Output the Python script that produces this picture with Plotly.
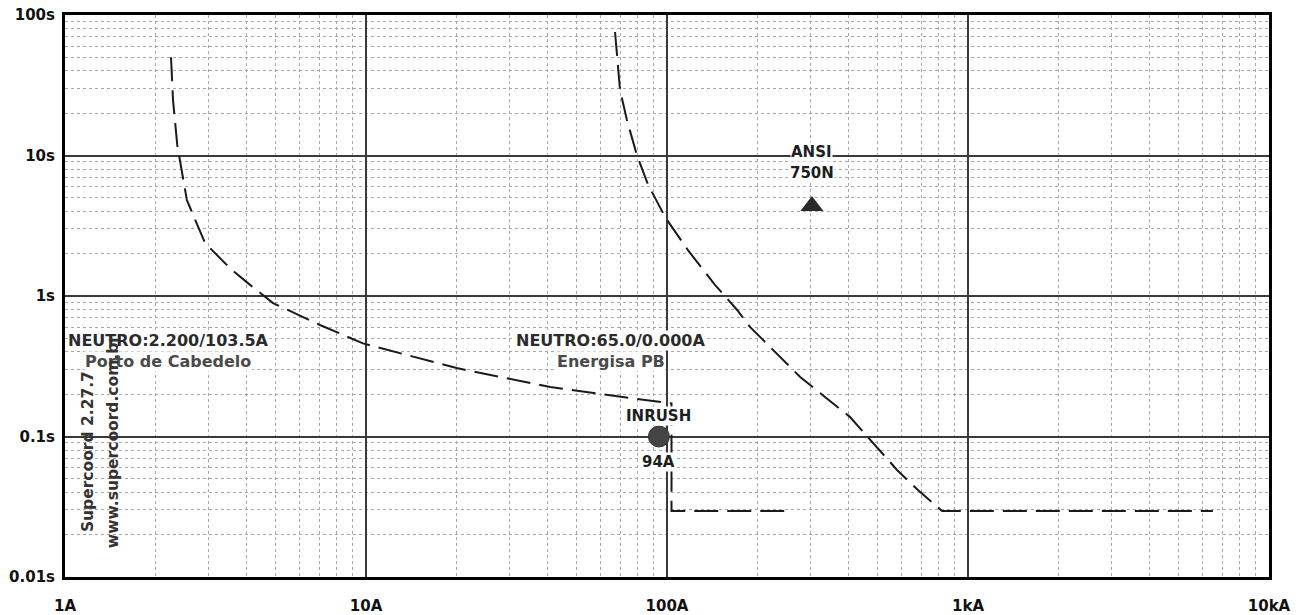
import math
import plotly.graph_objects as go

# ---- data (current in A, time in s) ----
cabedelo_current = [2.25, 2.285, 2.36, 2.47, 2.54, 2.92, 3.53, 4.12, 4.91, 7.03, 9.77, 20.0, 40.9, 79.5, 103.5, 103.5, 252.0]
cabedelo_time = [50.0, 24.8, 11.9, 6.9, 4.82, 2.38, 1.58, 1.2, 0.89, 0.622, 0.46, 0.307, 0.225, 0.185, 0.172, 0.0295, 0.0295]

energisa_current = [67.2, 69.8, 73.6, 79.5, 86.5, 99.0, 117.4, 144.3, 171.0, 189.0, 277.0, 405.0, 581.0, 682.0, 820.0, 6510.0]
energisa_time = [75.7, 29.3, 17.9, 10.0, 6.2, 3.59, 2.12, 1.2, 0.795, 0.60, 0.265, 0.138, 0.0578, 0.0416, 0.0295, 0.0295]

inrush_current = [94.0]
inrush_time = [0.1]

ansi_current = [303.0]
ansi_time = [4.37]

pickup_cabedelo = 2.2
pickup_energisa = 65.0
label_time = 0.486

x_tickvals = [1, 10, 100, 1000, 10000]
x_ticktext = ["1A", "10A", "100A", "1kA", "10kA"]
y_tickvals = [0.01, 0.1, 1, 10, 100]
y_ticktext = ["0.01s", "0.1s", "1s", "10s", "100s"]
minor_mult = [2, 3, 4, 5, 6, 7, 8, 9]

x_minor = [m * v for v in x_tickvals[:-1] for m in minor_mult]
y_minor = [m * v for v in y_tickvals[:-1] for m in minor_mult]

FONT = "DejaVu Sans"
DASH = "24px,9px"

fig = go.Figure()
fig.add_trace(go.Scatter(x=cabedelo_current, y=cabedelo_time, mode="lines",
                         line=dict(color="#1a1a1a", width=2, dash=DASH),
                         hoverinfo="skip", showlegend=False))
fig.add_trace(go.Scatter(x=energisa_current, y=energisa_time, mode="lines",
                         line=dict(color="#1a1a1a", width=2, dash=DASH),
                         hoverinfo="skip", showlegend=False))
fig.add_trace(go.Scatter(x=inrush_current, y=inrush_time, mode="markers",
                         marker=dict(symbol="circle", size=21, color="#454545",
                                     line=dict(color="#333", width=1)),
                         hoverinfo="skip", showlegend=False))
fig.add_trace(go.Scatter(x=ansi_current, y=ansi_time, mode="markers",
                         marker=dict(symbol="triangle-up", size=20, color="#2a2a2a"),
                         hoverinfo="skip", showlegend=False))

ann = []
def label(x, y, text, yshift, size=15, color="#222"):
    ann.append(dict(x=math.log10(x), y=math.log10(y), xref="x", yref="y",
                    text="<b>%s</b>" % text, xanchor="center", yanchor="middle",
                    showarrow=False, yshift=yshift, bgcolor="white", borderpad=0,
                    font=dict(family=FONT, size=size, color=color)))

label(pickup_cabedelo, label_time, "NEUTRO:2.200/103.5A", 0, size=16, color="#2b2b2b")
label(pickup_cabedelo, label_time, "Porto de Cabedelo", -21, size=16, color="#4a4a4a")
label(pickup_energisa, label_time, "NEUTRO:65.0/0.000A", 0, size=16, color="#2b2b2b")
label(pickup_energisa, label_time, "Energisa PB", -21, size=16, color="#4a4a4a")
label(inrush_current[0], inrush_time[0], "INRUSH", 21, size=15, color="#1e1e1e")
label(inrush_current[0], inrush_time[0], "94A", -25, size=15, color="#1e1e1e")
label(ansi_current[0], ansi_time[0], "ANSI", 54, size=15, color="#1e1e1e")
label(ansi_current[0], ansi_time[0], "750N", 33, size=15, color="#1e1e1e")

ann.append(dict(x=0.0191, y=0.224, xref="paper", yref="paper", text="<b>Supercoord 2.27.7</b>",
                textangle=-90, showarrow=False, xanchor="center", yanchor="middle",
                font=dict(family=FONT, size=15.5, color="#333")))
ann.append(dict(x=0.0399, y=0.240, xref="paper", yref="paper", text="<b>www.supercoord.com.br</b>",
                textangle=-90, showarrow=False, xanchor="center", yanchor="middle",
                font=dict(family=FONT, size=15.5, color="#333")))

axis_common = dict(
    type="log", showline=True, linecolor="black", linewidth=3, mirror=True,
    showgrid=True, gridcolor="#3a3a3a", gridwidth=1.5, zeroline=False, automargin=False,
    ticks="", ticklabeloverflow="allow", tickfont=dict(family=FONT, size=15, color="#111"),
)

fig.update_layout(
    width=1304, height=615,
    margin=dict(l=65, r=35, t=15, b=38),
    paper_bgcolor="white", plot_bgcolor="white",
    annotations=ann,
    xaxis=dict(range=[0, 4], tickmode="array", tickvals=x_tickvals, ticktext=["<b>%s</b>" % t for t in x_ticktext],
               ticklabelstandoff=13,
               minor=dict(tickmode="array", tickvals=x_minor, showgrid=True, gridcolor="#a8a8a8",
                          griddash="dot", gridwidth=1, ticks=""),
               **axis_common),
    yaxis=dict(range=[-2, 2], tickmode="array", tickvals=y_tickvals, ticktext=["<b>%s</b>" % t for t in y_ticktext],
               ticklabelstandoff=4,
               minor=dict(tickmode="array", tickvals=y_minor, showgrid=True, gridcolor="#a8a8a8",
                          griddash="dot", gridwidth=1, ticks=""),
               **axis_common),
)

fig.write_html("out.html", config={"displayModeBar": False},
               post_script="document.body.style.margin='0px';document.body.style.overflow='hidden';")
